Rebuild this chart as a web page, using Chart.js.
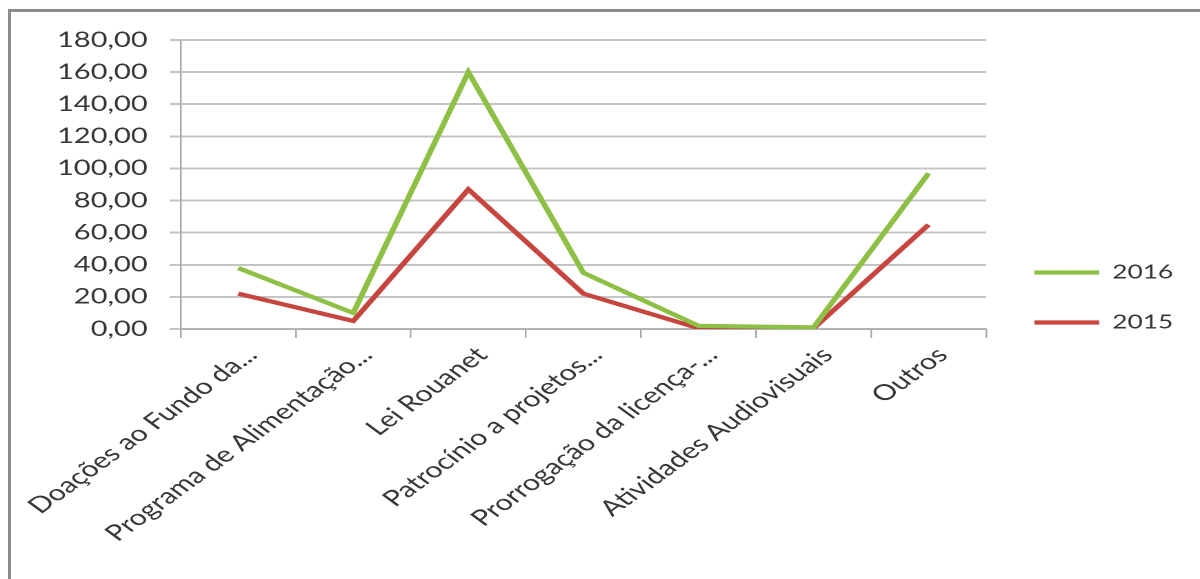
<!DOCTYPE html>
<html>
<head>
<meta charset="utf-8">
<script src="https://cdn.jsdelivr.net/npm/chart.js@4.4.0/dist/chart.umd.min.js"></script>
<style>
  html, body { margin: 0; padding: 0; background: #fff; }
  #wrap { position: relative; width: 1200px; height: 579px; overflow: hidden; }
  #grafico { display: block; }
  #moldura { position: absolute; left: 8px; top: 9px; width: 1300px; height: 700px;
    border-top: 3px solid #8c8c8c; border-left: 3px solid #8c8c8c; pointer-events: none; }
</style>
</head>
<body>
<div id="wrap">
  <canvas id="grafico" width="870" height="579" style="width:1200px;height:579px"></canvas>
  <div id="moldura"></div>
</div>
<script>
const categorias = ['Doações ao Fundo da...', 'Programa de Alimentação...', 'Lei Rouanet',
  'Patrocínio a projetos...', 'Prorrogação da licença-...', 'Atividades Audiovisuais', 'Outros'];
const valores2016 = [38, 10, 160, 35, 2, 1, 97];
const valores2015 = [22, 5, 87, 22, 0.5, 0.4, 65];
const ticksY = [0, 20, 40, 60, 80, 100, 120, 140, 160, 180];

const corTexto = '#363636';
const corGrade = '#c4c4c4';
const fonte = 'Lato';

const ctx = document.querySelector('#grafico');

// o grafico original esta esticado na horizontal (~1.38x), por isso o canvas tem 870 px e e mostrado com 1200
const grafico = new Chart(ctx, {
  type: 'line',
  data: {
    labels: categorias,
    datasets: [
      { label: '2016', data: valores2016, borderColor: '#8dc044', backgroundColor: '#8dc044',
        borderWidth: 4.2, pointRadius: 0, tension: 0, yAxisID: 'y' },
      { label: '2015', data: valores2015, borderColor: '#c6453f', backgroundColor: '#c6453f',
        borderWidth: 4.2, pointRadius: 0, tension: 0, yAxisID: 'y' }
    ]
  },
  options: {
    responsive: false,
    animation: false,
    devicePixelRatio: 2,
    layout: { padding: { top: 40, right: 9.5, bottom: 24, left: 0 } },
    plugins: {
      tooltip: { enabled: false },
      legend: {
        position: 'right',
        labels: {
          usePointStyle: true,
          pointStyle: 'line',
          pointStyleWidth: 47,
          padding: 31,
          color: corTexto,
          font: { family: fonte, size: 19 }
        }
      }
    },
    scales: {
      x: {
        offset: true,
        grid: { offset: true, drawOnChartArea: false, drawTicks: true, tickLength: 9, color: '#a8a8a8', lineWidth: 1.2 },
        border: { color: '#a8a8a8', width: 1.2 },
        ticks: { minRotation: 45, maxRotation: 45, autoSkip: false, padding: 4, labelOffset: 10,
          color: corTexto, font: { family: fonte, size: 22 } },
        afterFit: (s) => { s.height = 226; s.paddingLeft = 0; s.paddingRight = 0; }
      },
      y: {
        min: 0, max: 180,
        afterBuildTicks: (s) => { s.ticks = ticksY.map(v => ({ value: v })); },
        grid: { color: corGrade, lineWidth: 2, tickLength: 8 },
        border: { color: '#a8a8a8', width: 1.2 },
        ticks: { padding: 16, color: corTexto, font: { family: fonte, size: 21 },
          callback: (v) => Number(v).toFixed(2).replace('.', ',') },
        afterFit: (s) => { s.width = 131; }
      },
      espaco: {
        position: 'right',
        display: true,
        grid: { display: false },
        border: { display: false },
        ticks: { display: false },
        afterFit: (s) => { s.width = 4; }
      }
    }
  }
});
</script>
</body>
</html>
